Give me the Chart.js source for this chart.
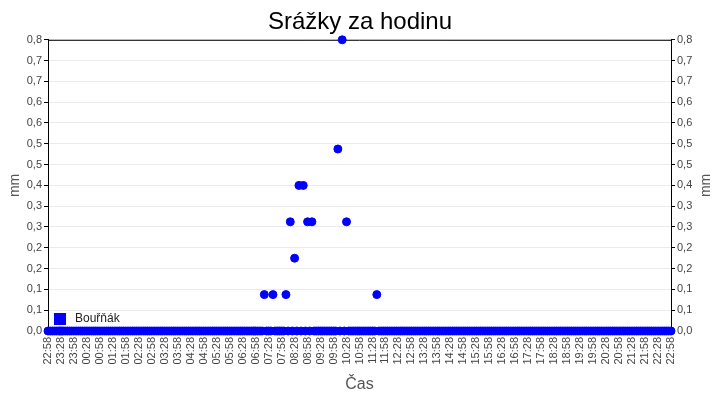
<!DOCTYPE html>
<html>
<head>
<meta charset="utf-8">
<script src="https://cdn.jsdelivr.net/npm/chart.js@4/dist/chart.umd.min.js"></script>
<style>
  body { margin: 0; background: #fff; }
  #obal { width: 720px; height: 400px; }
</style>
</head>
<body>
<div id="obal"><canvas id="graf"></canvas></div>
<script>
// casy mereni po 5 minutach (jeden radek = jedna hodina)
const casy = [
  '22:58','23:03','23:08','23:13','23:18','23:23','23:28','23:33','23:38','23:43','23:48','23:53',
  '23:58','00:03','00:08','00:13','00:18','00:23','00:28','00:33','00:38','00:43','00:48','00:53',
  '00:58','01:03','01:08','01:13','01:18','01:23','01:28','01:33','01:38','01:43','01:48','01:53',
  '01:58','02:03','02:08','02:13','02:18','02:23','02:28','02:33','02:38','02:43','02:48','02:53',
  '02:58','03:03','03:08','03:13','03:18','03:23','03:28','03:33','03:38','03:43','03:48','03:53',
  '03:58','04:03','04:08','04:13','04:18','04:23','04:28','04:33','04:38','04:43','04:48','04:53',
  '04:58','05:03','05:08','05:13','05:18','05:23','05:28','05:33','05:38','05:43','05:48','05:53',
  '05:58','06:03','06:08','06:13','06:18','06:23','06:28','06:33','06:38','06:43','06:48','06:53',
  '06:58','07:03','07:08','07:13','07:18','07:23','07:28','07:33','07:38','07:43','07:48','07:53',
  '07:58','08:03','08:08','08:13','08:18','08:23','08:28','08:33','08:38','08:43','08:48','08:53',
  '08:58','09:03','09:08','09:13','09:18','09:23','09:28','09:33','09:38','09:43','09:48','09:53',
  '09:58','10:03','10:08','10:13','10:18','10:23','10:28','10:33','10:38','10:43','10:48','10:53',
  '10:58','11:03','11:08','11:13','11:18','11:23','11:28','11:33','11:38','11:43','11:48','11:53',
  '11:58','12:03','12:08','12:13','12:18','12:23','12:28','12:33','12:38','12:43','12:48','12:53',
  '12:58','13:03','13:08','13:13','13:18','13:23','13:28','13:33','13:38','13:43','13:48','13:53',
  '13:58','14:03','14:08','14:13','14:18','14:23','14:28','14:33','14:38','14:43','14:48','14:53',
  '14:58','15:03','15:08','15:13','15:18','15:23','15:28','15:33','15:38','15:43','15:48','15:53',
  '15:58','16:03','16:08','16:13','16:18','16:23','16:28','16:33','16:38','16:43','16:48','16:53',
  '16:58','17:03','17:08','17:13','17:18','17:23','17:28','17:33','17:38','17:43','17:48','17:53',
  '17:58','18:03','18:08','18:13','18:18','18:23','18:28','18:33','18:38','18:43','18:48','18:53',
  '18:58','19:03','19:08','19:13','19:18','19:23','19:28','19:33','19:38','19:43','19:48','19:53',
  '19:58','20:03','20:08','20:13','20:18','20:23','20:28','20:33','20:38','20:43','20:48','20:53',
  '20:58','21:03','21:08','21:13','21:18','21:23','21:28','21:33','21:38','21:43','21:48','21:53',
  '21:58','22:03','22:08','22:13','22:18','22:23','22:28','22:33','22:38','22:43','22:48','22:53',
  '22:58'
];

// srazky v mm
const srazky = [
  0, 0, 0, 0, 0, 0, 0, 0, 0, 0, 0, 0,
  0, 0, 0, 0, 0, 0, 0, 0, 0, 0, 0, 0,
  0, 0, 0, 0, 0, 0, 0, 0, 0, 0, 0, 0,
  0, 0, 0, 0, 0, 0, 0, 0, 0, 0, 0, 0,
  0, 0, 0, 0, 0, 0, 0, 0, 0, 0, 0, 0,
  0, 0, 0, 0, 0, 0, 0, 0, 0, 0, 0, 0,
  0, 0, 0, 0, 0, 0, 0, 0, 0, 0, 0, 0,
  0, 0, 0, 0, 0, 0, 0, 0, 0, 0, 0, 0,
  0, 0, 0, 0, 0.1, 0, 0, 0, 0.1, 0, 0, 0,
  0, 0, 0.1, 0, 0.3, 0, 0.2, 0, 0.4, 0, 0.4, 0,
  0.3, 0, 0.3, 0, 0, 0, 0, 0, 0, 0, 0, 0,
  0, 0, 0.5, 0, 0.8, 0, 0.3, 0, 0, 0, 0, 0,
  0, 0, 0, 0, 0, 0, 0, 0, 0.1, 0, 0, 0,
  0, 0, 0, 0, 0, 0, 0, 0, 0, 0, 0, 0,
  0, 0, 0, 0, 0, 0, 0, 0, 0, 0, 0, 0,
  0, 0, 0, 0, 0, 0, 0, 0, 0, 0, 0, 0,
  0, 0, 0, 0, 0, 0, 0, 0, 0, 0, 0, 0,
  0, 0, 0, 0, 0, 0, 0, 0, 0, 0, 0, 0,
  0, 0, 0, 0, 0, 0, 0, 0, 0, 0, 0, 0,
  0, 0, 0, 0, 0, 0, 0, 0, 0, 0, 0, 0,
  0, 0, 0, 0, 0, 0, 0, 0, 0, 0, 0, 0,
  0, 0, 0, 0, 0, 0, 0, 0, 0, 0, 0, 0,
  0, 0, 0, 0, 0, 0, 0, 0, 0, 0, 0, 0,
  0, 0, 0, 0, 0, 0, 0, 0, 0, 0, 0, 0,
  0
];

const nazevStanice = 'Bouřňák';
const krokPopisku = 6;   // popisek kazdych 30 minut
const osaMax = 0.8;
const pocetCar = 15;

const pismo = 'Liberation Sans, Arial, sans-serif';
const modra = '#0000ff';

// ramecek nahore, legenda uvnitr grafu a titulek prave osy
const ramecek = {
  id: 'ramecek',
  beforeDatasetsDraw(chart) {
    const a = chart.chartArea, c = chart.ctx;
    c.save();
    c.strokeStyle = '#000';
    c.lineWidth = 1;
    c.beginPath();
    c.moveTo(a.left, a.top + 0.5);
    c.lineTo(a.right, a.top + 0.5);
    c.stroke();
    c.restore();
  },
  afterDatasetsDraw(chart) {
    const a = chart.chartArea, c = chart.ctx;
    c.save();
    c.fillStyle = modra;
    c.fillRect(a.left + 6, a.bottom - 18, 12, 12);
    c.fillStyle = '#222';
    c.font = '12px ' + pismo;
    c.textBaseline = 'middle';
    c.fillText(chart.data.datasets[0].label, a.left + 27, a.bottom - 12);
    // titulek prave osy otoceny stejne jako levy
    c.translate(706, (a.top + a.bottom) / 2);
    c.rotate(-Math.PI / 2);
    c.fillStyle = '#555';
    c.font = '14px ' + pismo;
    c.textAlign = 'center';
    c.fillText(chart.options.scales.y.title.text, 0, 0);
    c.restore();
  }
};

const osaY = (pozice) => ({
  position: pozice,
  min: 0,
  max: osaMax,
  border: { color: '#000', width: 1 },
  grid: {
    drawOnChartArea: pozice === 'left',
    color: '#ebebeb',
    tickColor: '#000',
    tickLength: 4
  },
  ticks: {
    count: pocetCar,
    padding: 2,
    color: '#444',
    font: { family: pismo, size: 11 },
    callback: v => v.toFixed(1).replace('.', ',')
  },
  title: {
    display: pozice === 'left',
    text: 'mm',
    color: '#555',
    font: { family: pismo, size: 14 },
    padding: { top: 7, bottom: 0 }
  },
  afterFit: s => { s.width = pozice === 'left' ? 48 : 49; }
});

new Chart(document.getElementById('graf'), {
  type: 'line',
  data: {
    labels: casy,
    datasets: [{
      label: nazevStanice,
      data: srazky,
      showLine: false,
      pointRadius: 4,
      pointBorderWidth: 1,
      pointBackgroundColor: modra,
      pointBorderColor: modra,
      yAxisID: 'y',
      clip: false
    }]
  },
  options: {
    responsive: true,
    maintainAspectRatio: false,
    animation: false,
    layout: { padding: 0 },
    plugins: {
      legend: { display: false },
      tooltip: { enabled: false },
      title: {
        display: true,
        text: 'Srážky za hodinu',
        color: '#000',
        font: { family: pismo, size: 24, weight: 'normal' },
        padding: { top: 8, bottom: 3 }
      }
    },
    scales: {
      x: {
        border: { color: '#000', width: 1 },
        grid: {
          drawOnChartArea: false,
          tickLength: 4,
          tickColor: c => (c.index % krokPopisku === 0 ? '#000' : 'rgba(0,0,0,0)')
        },
        ticks: {
          autoSkip: false,
          maxRotation: 90,
          minRotation: 90,
          padding: 2,
          color: '#444',
          font: { family: pismo, size: 11 },
          callback: function(v, i) {
            return i % krokPopisku === 0 ? this.getLabelForValue(v) : '';
          }
        },
        title: {
          display: true,
          text: 'Čas',
          color: '#555',
          font: { family: pismo, size: 16 },
          padding: { top: 0, bottom: 6 }
        },
        afterFit: s => { s.height = 69; }
      },
      y: osaY('left'),
      y2: osaY('right')
    }
  },
  plugins: [ramecek]
});
</script>
</body>
</html>
